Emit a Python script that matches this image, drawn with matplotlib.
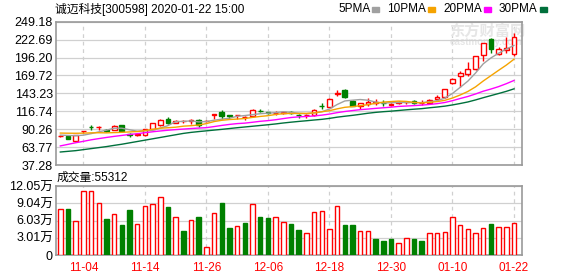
import numpy as np
import pandas as pd
import matplotlib
matplotlib.use('Agg')
import matplotlib.pyplot as plt

plt.rcParams['font.family'] = ['Liberation Sans', 'Noto Sans CJK SC']

title = '诚迈科技[300598] 2020-01-22 15:00'
# trading days, 2020-01-01 was a holiday
dates = [d.strftime('%m-%d') for d in pd.bdate_range('2019-10-30', '2020-01-22')
         if d.strftime('%m-%d') != '01-01']
tick_dates = ['11-04', '11-14', '11-26', '12-06', '12-18', '12-30', '01-10', '01-22']

opens = [79.5, 79.8, 73.5, 87.0, 94.0, 93.0, 88.8, 88.8, 96.0, 83.0,
         82.0, 81.0, 91.0, 96.0, 105.5, 100.0, 101.8, 102.5, 104.0, 102.0,
         111.0, 115.8, 111.2, 110.5, 108.0, 110.4, 117.0, 115.5, 114.3, 114.4,
         115.6, 111.5, 110.5, 111.5, 125.0, 123.0, 143.0, 147.6, 132.0, 124.5,
         127.6, 129.6, 129.5, 126.5, 128.5, 129.8, 132.5, 129.0, 129.5, 134.5,
         137.5, 158.4, 169.5, 172.2, 179.5, 200.1, 223.2, 201.1, 207.5, 201.6]
highs = [81.8, 80.2, 81.5, 88.0, 96.5, 95.5, 89.8, 96.0, 97.0, 84.5,
         84.0, 91.0, 100.0, 106.0, 108.4, 103.5, 104.0, 106.0, 105.0, 104.0,
         112.3, 119.2, 111.5, 111.3, 109.6, 119.5, 119.7, 116.3, 116.8, 116.0,
         117.0, 113.0, 113.0, 119.5, 128.5, 136.0, 148.0, 149.6, 133.0, 129.5,
         136.1, 135.0, 133.0, 128.5, 131.5, 132.0, 134.0, 134.0, 134.5, 141.3,
         150.0, 165.5, 176.6, 190.3, 199.0, 218.0, 224.7, 212.4, 226.1, 232.0]
lows = [78.0, 75.0, 73.0, 84.0, 89.5, 89.5, 86.0, 88.5, 86.5, 79.0,
        80.0, 80.5, 90.0, 95.0, 98.0, 99.0, 99.5, 98.5, 94.0, 101.0,
        105.0, 105.4, 105.5, 106.0, 103.5, 108.0, 115.0, 113.0, 111.4, 113.0,
        112.0, 107.5, 107.0, 110.0, 120.0, 122.5, 139.0, 136.3, 124.0, 120.5,
        125.1, 126.5, 124.5, 124.0, 127.5, 127.0, 128.0, 126.6, 128.5, 131.5,
        136.5, 156.5, 152.6, 168.3, 178.0, 191.3, 202.6, 199.6, 202.6, 198.7]
closes = [80.3, 75.8, 81.0, 87.5, 93.5, 93.8, 88.0, 95.5, 87.5, 82.0,
          82.8, 90.5, 99.5, 104.5, 100.0, 102.5, 102.3, 103.2, 97.0, 103.0,
          112.0, 110.4, 110.2, 111.0, 108.6, 119.0, 116.5, 114.5, 114.8, 115.0,
          114.6, 110.8, 111.0, 119.0, 124.3, 135.4, 143.6, 137.8, 124.5, 129.0,
          131.0, 130.3, 129.0, 127.5, 130.5, 131.0, 129.5, 129.3, 133.5, 138.5,
          149.5, 164.8, 174.0, 179.5, 198.7, 217.3, 208.5, 208.8, 210.0, 226.1]
volume = [79700, 79700, 59400, 111000, 111000, 90000, 63000, 71000, 52400, 78600,
          53600, 85000, 88500, 100700, 83800, 65800, 41900, 60500, 65800, 13400,
          72800, 90800, 47100, 50000, 55900, 88500, 66400, 64600, 65800, 57600,
          54100, 43700, 37800, 75000, 76800, 45400, 85000, 52400, 52400, 41900,
          41900, 27900, 24400, 27900, 20400, 29100, 27900, 24400, 37800, 37800,
          39600, 65800, 51800, 45400, 37800, 46600, 54100, 48300, 48300, 55312]

ma5 = [81.5, 81.0, 80.6, 81.4, 83.6, 86.3, 88.8, 91.7, 91.7, 89.4,
       87.2, 87.7, 88.5, 91.9, 95.5, 101.4, 101.8, 102.5, 101.0, 101.6,
       103.5, 105.1, 106.5, 109.3, 110.4, 111.8, 113.1, 113.9, 114.7, 116.0,
       115.1, 113.9, 113.2, 114.1, 115.9, 120.1, 126.7, 132.0, 133.1, 134.1,
       133.1, 130.4, 128.9, 129.4, 129.7, 129.7, 129.5, 129.6, 130.8, 132.4,
       136.1, 143.1, 152.1, 161.3, 173.3, 186.9, 195.6, 202.6, 208.7, 214.1]
ma10 = [84.5, 84.3, 84.2, 84.4, 84.8, 85.0, 84.8, 85.2, 85.6, 86.2,
        86.7, 88.2, 90.0, 91.7, 92.4, 93.2, 94.7, 95.4, 96.4, 98.5,
        101.5, 103.4, 104.5, 105.2, 106.0, 107.7, 109.1, 110.2, 112.0, 113.2,
        113.5, 113.5, 113.6, 114.4, 116.0, 117.6, 120.3, 122.6, 123.6, 125.0,
        126.5, 128.5, 130.3, 131.1, 131.8, 131.3, 129.9, 129.1, 130.0, 131.0,
        132.9, 136.3, 140.8, 146.0, 152.8, 161.5, 169.4, 177.3, 185.0, 193.7]
ma20 = [65.5, 67.8, 70.2, 72.3, 74.5, 76.3, 78.0, 79.6, 81.0, 82.4,
        83.6, 85.0, 86.4, 87.6, 88.7, 89.6, 90.4, 91.2, 91.9, 92.5,
        94.1, 95.8, 97.3, 98.5, 99.2, 100.5, 101.9, 102.9, 104.2, 105.9,
        107.5, 108.5, 109.0, 109.8, 111.0, 112.6, 114.7, 116.4, 117.8, 119.1,
        120.0, 121.0, 121.9, 122.8, 123.9, 124.5, 125.1, 125.8, 126.8, 128.0,
        129.7, 132.4, 135.6, 138.6, 142.3, 146.4, 149.6, 153.2, 157.5, 162.3]
ma30 = [56.5, 57.5, 58.5, 60.0, 61.5, 63.0, 64.5, 66.3, 68.0, 70.0,
        72.0, 74.0, 76.0, 78.0, 80.0, 82.0, 84.0, 85.5, 86.7, 87.8,
        88.9, 90.0, 91.2, 92.4, 93.5, 94.6, 95.7, 96.8, 98.0, 99.4,
        100.6, 101.7, 102.7, 103.8, 104.8, 106.2, 108.0, 109.4, 110.7, 112.2,
        113.8, 115.1, 116.1, 116.9, 117.9, 118.9, 119.8, 120.6, 121.9, 123.0,
        124.3, 126.1, 128.2, 130.5, 133.5, 136.8, 139.9, 143.0, 146.2, 149.9]

price_ticks = [37.28, 63.77, 90.26, 116.74, 143.23, 169.72, 196.20, 222.69, 249.18]
vol_ticks = [0, 30125, 60250, 90375, 120500]
vol_tick_labels = ['0', '3.01万', '6.03万', '9.04万', '12.05万']
ma_names = ['5PMA', '10PMA', '20PMA', '30PMA']
ma_colors = ['#a0a0a0', '#f5a300', '#ff00ff', '#00703c']

RED, GREEN = '#ff0000', '#008000'
GRID, FRAME = '#d0d0d0', '#999999'

x = np.arange(len(dates))
o, h, l, c = map(np.array, (opens, highs, lows, closes))
up = c >= o
vol_up = np.r_[True, c[1:] >= c[:-1]]
tick_pos = [dates.index(d) for d in tick_dates]

fig = plt.figure(figsize=(5.78, 2.76), dpi=100)
ax = fig.add_axes([55.7 / 578, 1 - 165 / 276, 466.6 / 578, 143.3 / 276])
ax2 = fig.add_axes([55.7 / 578, 1 - 255 / 276, 466.6 / 578, 69 / 276])

for a in (ax, ax2):
    a.set_xlim(-0.6, 60.08)
    for s in a.spines.values():
        s.set_color(FRAME)
        s.set_linewidth(1.2)
    for p in tick_pos:
        a.axvline(p, color=GRID, lw=0.9, ls=(0, (3, 3)), zorder=0)
    a.tick_params(length=0, labelsize=9, pad=2)

# watermark, behind the candles
ax.text(487 / 578, 1 - 31 / 276, '东方财富网', fontsize=11, color='#e6e6e6',
        ha='center', va='center', weight='bold', zorder=1, transform=fig.transFigure)
ax.text(486 / 578, 1 - 42 / 276, 'eastmoney.com', fontsize=7, color='#e6e6e6',
        ha='center', va='center', weight='bold', zorder=1, transform=fig.transFigure)

# candles
ax.set_ylim(price_ticks[0], price_ticks[-1])
ax.set_yticks(price_ticks)
ax.set_yticklabels([f'{t:.2f}' for t in price_ticks])
ax.set_xticks([])
ax.grid(axis='y', color=GRID, lw=0.9, zorder=0)
ax.vlines(x, l, h, colors=np.where(up, RED, GREEN), lw=1, zorder=2)
body = np.maximum(np.abs(c - o), 0.5)
ax.bar(x, body, bottom=np.minimum(o, c), width=0.62,
       color=np.where(up, 'white', GREEN), edgecolor=np.where(up, RED, GREEN),
       lw=1, zorder=3)
for ma, col in zip((ma5, ma10, ma20, ma30), ma_colors):
    ax.plot(x, ma, color=col, lw=1, zorder=4)

# volume
ax2.set_ylim(0, vol_ticks[-1])
ax2.set_yticks(vol_ticks)
ax2.set_yticklabels(vol_tick_labels)
ax2.grid(axis='y', color=GRID, lw=0.9, zorder=0)
ax2.bar(x, volume, width=0.58, color=np.where(vol_up, 'white', GREEN),
        edgecolor=np.where(vol_up, RED, GREEN), lw=1, zorder=3)
ax2.set_xticks(tick_pos)
ax2.set_xticklabels(tick_dates, color=RED, fontsize=8.5)
ax2.tick_params(axis='x', pad=5)

fig.text(55 / 578, 1 - 9 / 276, title, fontsize=8.5, va='center', ha='left')
fig.text(57 / 578, 1 - 178 / 276, f'成交量:{volume[-1]}', fontsize=8.5,
         va='center', ha='left')

# legend: text followed by a small colour block
fig.canvas.draw()
r = fig.canvas.get_renderer()
px = 338
for name, col in zip(ma_names, ma_colors):
    t = fig.text(px / 578, 1 - 9 / 276, name, fontsize=8.5, va='center', ha='left')
    w = t.get_window_extent(r).width
    px += w + 2
    fig.patches.append(plt.Rectangle((px / 578, 1 - 11.5 / 276), 7 / 578, 4.5 / 276,
                                     transform=fig.transFigure, color=col))
    px += 7 + 8

fig.savefig('out.png', dpi=100)
